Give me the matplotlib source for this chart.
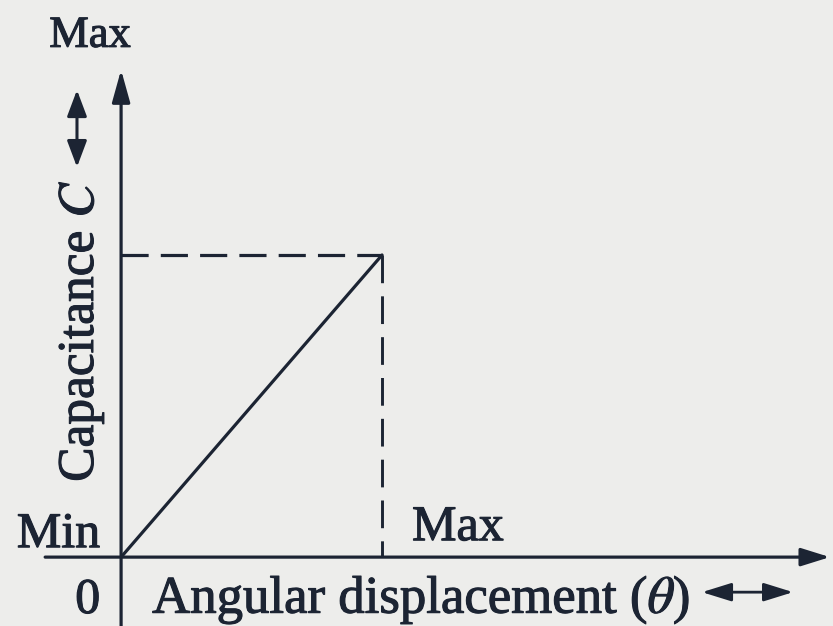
import matplotlib.pyplot as plt
import matplotlib.patheffects as pe

# capacitance rises linearly with angular displacement (normalised, 0 -> max)
theta = [0.0, 1.0]
capacitance = [0.0, 1.0]
x_ticks = ['0', 'Max']
y_ticks = ['Min', 'Max']

ink = '#1c2433'
paper = '#ededeb'

plt.rcParams['font.family'] = 'Liberation Serif'
plt.rcParams['mathtext.fontset'] = 'stix'

fig = plt.figure(figsize=(8.33, 6.26), dpi=100, facecolor=paper)
ax = fig.add_axes([0, 0, 1, 1])
ax.set_facecolor(paper)
ax.set_xlim(-0.464, 2.728)
ax.set_ylim(-0.228, 1.844)
ax.axis('off')

# axes with arrow heads
ax.annotate('', xy=(2.716, 0), xytext=(-0.291, 0),
            arrowprops=dict(arrowstyle='-|>,head_length=0.8,head_width=0.25',
                            color=ink, lw=2.3, mutation_scale=22,
                            shrinkA=0, shrinkB=0))
ax.annotate('', xy=(0, 1.613), xytext=(0, -0.26),
            arrowprops=dict(arrowstyle='-|>,head_length=0.9,head_width=0.25',
                            color=ink, lw=2.3, mutation_scale=22,
                            shrinkA=0, shrinkB=0))

# characteristic line and dashed guides
ax.plot(theta, capacitance, color=ink, lw=2.3, solid_capstyle='round')
ax.plot([0, theta[-1]], [capacitance[-1]] * 2, color=ink, lw=2.3,
        linestyle=(0, (8.5, 3.8)))
ax.plot([theta[-1]] * 2, [capacitance[-1], 0], color=ink, lw=2.1,
        linestyle=(0, (9.5, 4.5)))

thick = [pe.withStroke(linewidth=0.8, foreground=ink)]
txt = dict(color=ink, path_effects=thick)

ax.text(-0.080, 0.033, y_ticks[0], ha='right', va='baseline', fontsize=36, **txt)
ax.text(-0.119, 1.689, y_ticks[1], ha='center', va='baseline', fontsize=32, **txt)
ax.text(-0.080, -0.185, x_ticks[0], ha='right', va='baseline', fontsize=36, **txt)
ax.text(1.115, 0.056, x_ticks[1], ha='left', va='baseline', fontsize=36, **txt)

ax.text(-0.153, 0.748, 'Capacitance $C$', rotation=90, ha='center', va='center',
        fontsize=37, **txt)
ax.text(0.119, -0.185, r'Angular displacement ($\theta$)', ha='left',
        va='baseline', fontsize=38, **txt)

# little double arrows next to the labels
ax.annotate('', xy=(-0.169, 1.546), xytext=(-0.169, 1.291),
            arrowprops=dict(arrowstyle='<|-|>,head_length=0.8,head_width=0.3',
                            color=ink, lw=2.2, mutation_scale=20,
                            shrinkA=0, shrinkB=0))
ax.annotate('', xy=(2.575, -0.116), xytext=(2.226, -0.116),
            arrowprops=dict(arrowstyle='<|-|>,head_length=0.9,head_width=0.28',
                            color=ink, lw=2.0, mutation_scale=20,
                            shrinkA=0, shrinkB=0))

fig.savefig('out.png', dpi=100, facecolor=paper)
